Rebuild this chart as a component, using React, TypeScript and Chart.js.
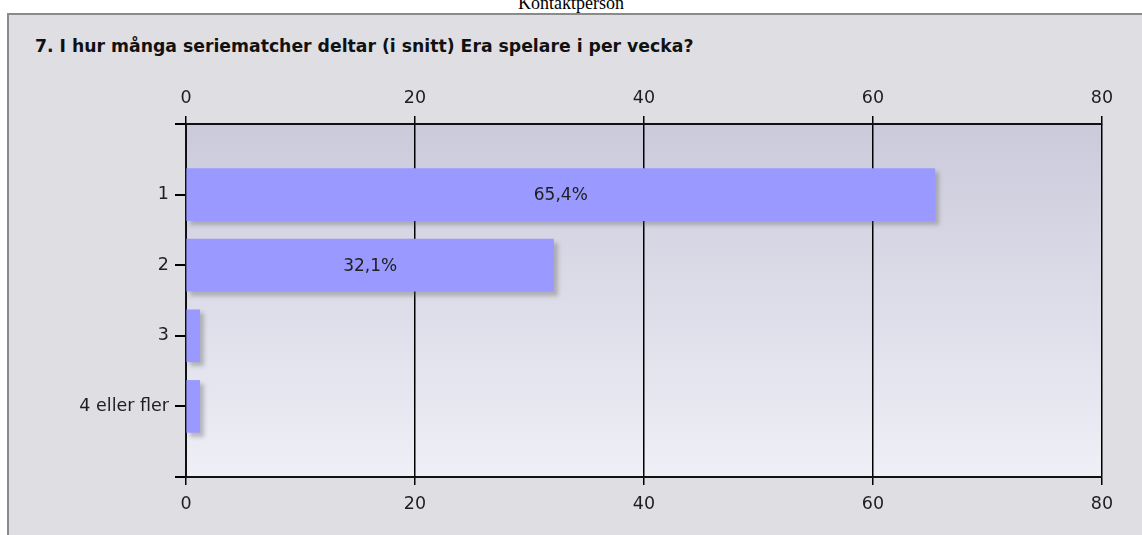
import React, { useEffect, useRef } from "react";
import { Chart, registerables } from "chart.js";

Chart.register(...registerables);

const categories: string[] = ["1", "2", "3", "4 eller fler"];
const percentages: number[] = [65.4, 32.1, 1.2, 1.2];
const xMin = 0;
const xMax = 80;
const xStep = 20;
const pageHeading = "Kontaktperson";
const questionTitle = "7. I hur många seriematcher deltar (i snitt) Era spelare i per vecka?";

const FONT_FAMILY = '"DejaVu Sans", Verdana, sans-serif';
const TEXT_COLOR = "#1e1e1e";

const plotBackground = {
  id: "plotBackground",
  beforeDraw(chart: any) {
    const { ctx, chartArea } = chart;
    if (!chartArea) return;
    const g = ctx.createLinearGradient(0, chartArea.top, 0, chartArea.bottom);
    g.addColorStop(0, "#cbcadb");
    g.addColorStop(1, "#efeff7");
    ctx.save();
    ctx.fillStyle = g;
    ctx.fillRect(chartArea.left, chartArea.top, chartArea.right - chartArea.left, chartArea.bottom - chartArea.top);
    ctx.restore();
  },
};

const barShadow = {
  id: "barShadow",
  beforeDatasetsDraw(chart: any) {
    const ctx = chart.ctx;
    ctx.save();
    ctx.shadowColor = "rgba(90,90,90,0.35)";
    ctx.shadowOffsetX = 4;
    ctx.shadowOffsetY = 4;
    ctx.shadowBlur = 4;
  },
  afterDatasetsDraw(chart: any) {
    chart.ctx.restore();
  },
};

const barLabels = {
  id: "barLabels",
  afterDraw(chart: any) {
    const ctx = chart.ctx;
    const meta = chart.getDatasetMeta(0);
    ctx.save();
    ctx.font = `17px ${FONT_FAMILY}`;
    ctx.fillStyle = TEXT_COLOR;
    ctx.textAlign = "center";
    ctx.textBaseline = "middle";
    meta.data.forEach((bar: any, i: number) => {
      const text = percentages[i].toFixed(1).replace(".", ",") + "%";
      const w = ctx.measureText(text).width;
      const left = Math.min(bar.x, bar.base);
      const right = Math.max(bar.x, bar.base);
      if (right - left > w + 10) {
        ctx.fillText(text, (left + right) / 2, bar.y + 1);
      }
    });
    ctx.restore();
  },
};

export default function App() {
  const canvasRef = useRef<HTMLCanvasElement | null>(null);

  useEffect(() => {
    if (!canvasRef.current) return;
    const tickFont = { family: FONT_FAMILY, size: 17.5 };
    const xTicks = {
      stepSize: xStep,
      font: tickFont,
      color: TEXT_COLOR,
      padding: 8,
    };
    const chart = new Chart(canvasRef.current, {
      type: "bar",
      data: {
        datasets: [
          {
            data: percentages.map((v, i) => ({ x: v, y: i + 1 })),
            xAxisID: "x",
            yAxisID: "y",
            backgroundColor: "#9999ff",
            borderWidth: 0,
            barThickness: 52,
          },
        ],
      },
      options: {
        indexAxis: "y",
        responsive: false,
        animation: false,
        layout: { padding: { left: 0, right: 40, top: 84, bottom: 18 } },
        plugins: {
          legend: { display: false },
          tooltip: { enabled: false },
          title: { display: false },
        },
        scales: {
          x: {
            type: "linear",
            position: "bottom",
            min: xMin,
            max: xMax,
            ticks: { ...xTicks, padding: 9 },
            grid: {
              color: "#000",
              lineWidth: 1.5,
              drawOnChartArea: true,
              drawTicks: true,
              tickLength: 8,
              tickColor: "#000",
            },
            border: { display: true, color: "#111", width: 2 },
            afterFit: (s: any) => {
              s.height = 40;
            },
          },
          x2: {
            type: "linear",
            position: "top",
            min: xMin,
            max: xMax,
            ticks: { ...xTicks, padding: 7 },
            grid: {
              color: "#000",
              lineWidth: 1.5,
              drawOnChartArea: false,
              drawTicks: true,
              tickLength: 8,
              tickColor: "#000",
            },
            border: { display: true, color: "#111", width: 2 },
            afterFit: (s: any) => {
              s.height = 40;
            },
          },
          y: {
            type: "linear",
            min: 0,
            max: categories.length + 1,
            reverse: true,
            offset: false,
            ticks: {
              stepSize: 1,
              font: tickFont,
              color: TEXT_COLOR,
              padding: 6,
              callback: (v: any) => categories[Number(v) - 1] ?? "",
            },
            grid: {
              offset: false,
              color: "#000",
              lineWidth: 2,
              drawOnChartArea: false,
              drawTicks: true,
              tickLength: 11,
              tickColor: "#000",
            },
            border: { display: true, color: "#111", width: 2 },
            afterFit: (s: any) => {
              s.width = 186;
            },
          },
        },
      } as any,
      plugins: [plotBackground, barShadow, barLabels],
    });
    return () => chart.destroy();
  }, []);

  return (
    <div
      style={{
        position: "absolute",
        left: 0,
        top: 0,
        width: 1142,
        height: 535,
        background: "#fff",
        overflow: "hidden",
      }}
    >
      <div
        style={{
          position: "absolute",
          left: 0,
          top: -6,
          width: 1142,
          textAlign: "center",
          fontFamily: '"Liberation Serif", "Times New Roman", serif',
          fontSize: 18,
          lineHeight: "18px",
          color: "#000",
        }}
      >
        {pageHeading}
      </div>
      <div
        style={{
          position: "absolute",
          left: 7,
          top: 13,
          width: 1160,
          height: 560,
          borderLeft: "2px solid #8a8a8a",
          borderTop: "2px solid #8a8a8a",
          background: "#dfdee3",
        }}
      />
      <div
        style={{
          position: "absolute",
          left: 35,
          top: 36,
          fontFamily: FONT_FAMILY,
          fontWeight: "bold",
          fontSize: 17.25,
          lineHeight: "20px",
          color: "#111",
          whiteSpace: "nowrap",
        }}
      >
        {questionTitle}
      </div>
      <canvas
        ref={canvasRef}
        width={1142}
        height={535}
        style={{ position: "absolute", left: 0, top: 0, width: 1142, height: 535 }}
      />
    </div>
  );
}
